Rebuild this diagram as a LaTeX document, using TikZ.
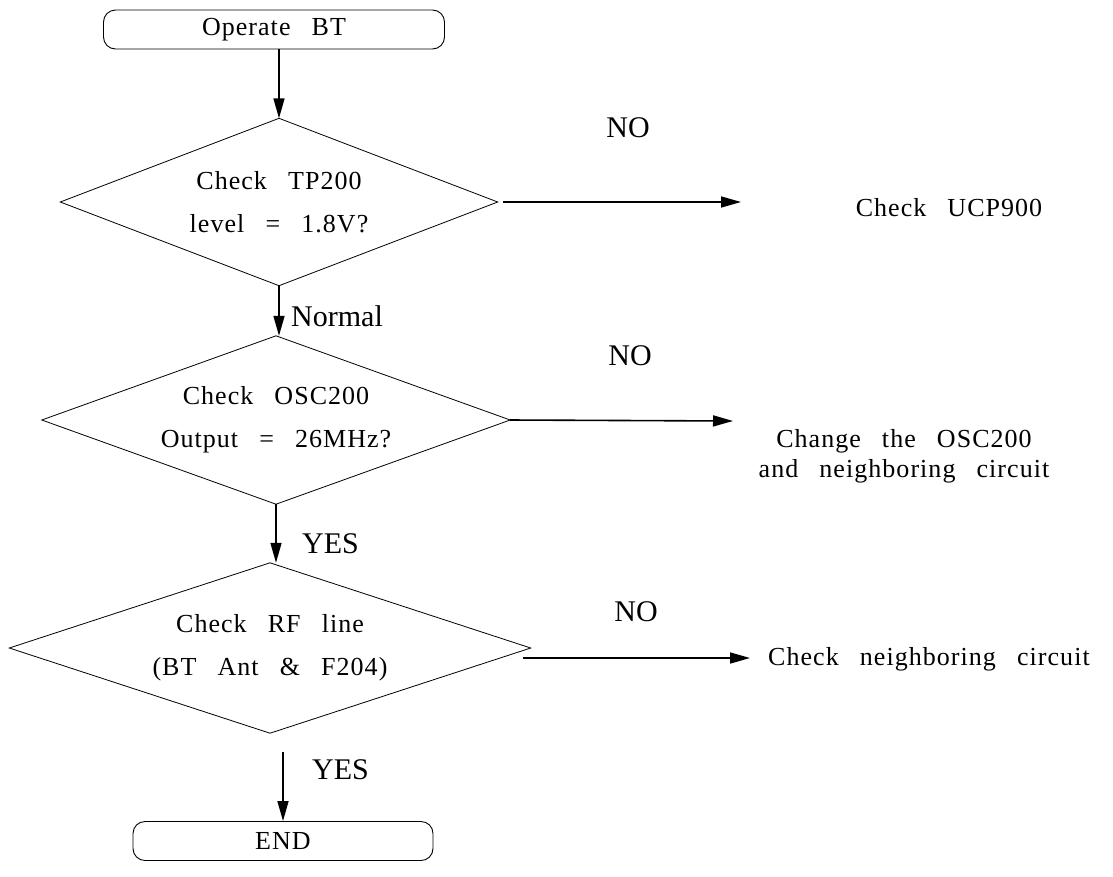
\documentclass[tikz,border=0pt]{standalone}
\usepackage{fontspec}
\setmainfont{Liberation Serif}
\newfontfamily\bat[LetterSpace=4,WordSpace=2.8]{Liberation Serif}
\usetikzlibrary{arrows.meta}
\begin{document}
\begin{tikzpicture}[x=1pt,y=-1pt,
  term/.style={draw,line width=0.9pt,rounded corners=12pt,minimum width=341pt,minimum height=39pt,inner sep=0pt,font=\bat\fontsize{26}{30}\selectfont},
  dec/.style={inner sep=0pt,align=center,font=\bat\fontsize{26}{43}\selectfont},
  dline/.style={line width=0.8pt},
  txt/.style={align=center,inner sep=0pt,font=\bat\fontsize{26}{30}\selectfont},
  lbl/.style={inner sep=0pt,font=\fontsize{30}{32}\selectfont},
  arr/.style={line width=1.6pt,-{Triangle[length=20pt,width=11pt]}}]
\useasboundingbox (0,0) rectangle (1113,876);
\node[term] (start) at (274,29.5) {Operate BT};
\node[dec,minimum width=437pt,minimum height=167pt] (d1) at (279,202) {Check TP200\\level = 1.8V?};
\draw[dline] (d1.north) -- (d1.east) -- (d1.south) -- (d1.west) -- cycle;
\node[txt] (r1) at (949,208) {Check UCP900};
\node[lbl] (no1) at (628,128) {NO};
\node[lbl,anchor=west] (normal) at (291,316) {Normal};
\node[dec,minimum width=468pt,minimum height=168pt] (d2) at (276,420) {Check OSC200\\Output = 26MHz?};
\draw[dline] (d2.north) -- (d2.east) -- (d2.south) -- (d2.west) -- cycle;
\node[lbl] (no2) at (630,356) {NO};
\node[txt] (r2) at (904,456) {Change the OSC200\\and neighboring circuit};
\node[lbl,anchor=west] (yes1) at (302,544) {YES};
\node[dec,minimum width=521pt,minimum height=170pt] (d3) at (270,648) {Check RF line\\(BT Ant \& F204)};
\draw[dline] (d3.north) -- (d3.east) -- (d3.south) -- (d3.west) -- cycle;
\node[lbl] (no3) at (636,612) {NO};
\node[txt,anchor=west] (r3) at (768,659) {Check neighboring circuit};
\node[lbl,anchor=west] (yes2) at (312,770) {YES};
\node[term,minimum width=300pt] (end) at (283,841) {END};
\coordinate (n1s) at (503,202);
\coordinate (n1e) at (741,202);
\coordinate (n2e) at (733,421);
\coordinate (n3s) at (523,658);
\coordinate (n3e) at (750,658);
\coordinate (y2s) at (283,752);
\draw[arr] (start.south -| d1.north) -- (d1.north);
\draw[arr] (n1s) -- (n1e);
\draw[arr] (d1.south) -- (d1.south |- d2.north);
\draw[arr] (d2.east) -- (n2e);
\draw[arr] (d2.south) -- (d2.south |- d3.north);
\draw[arr] (n3s) -- (n3e);
\draw[arr] (y2s) -- (y2s |- end.north);
\end{tikzpicture}
\end{document}
